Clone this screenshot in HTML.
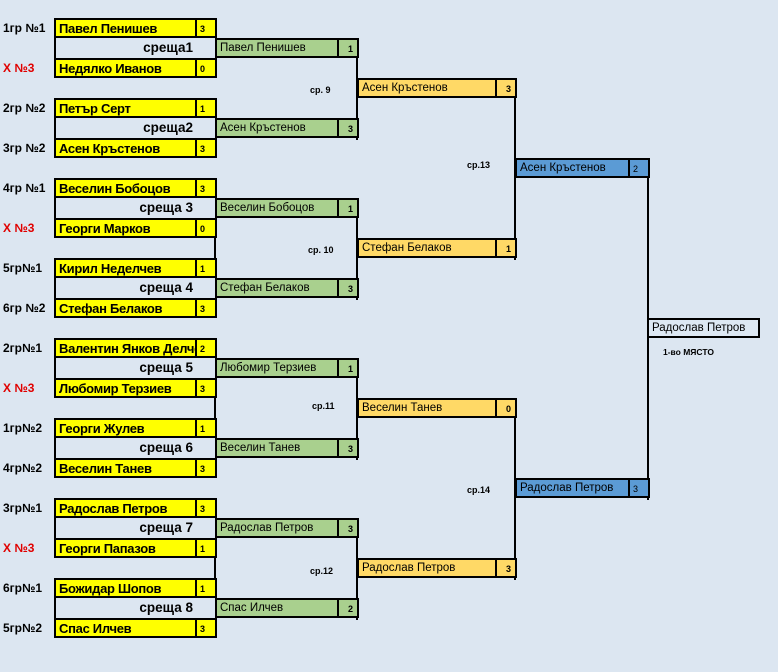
<!DOCTYPE html>
<html><head><meta charset="utf-8"><style>
body{margin:0;width:778px;height:672px;background:#dce6f1;position:relative;overflow:hidden;font-family:"Liberation Sans","DejaVu Sans",sans-serif}
.c{position:absolute;box-sizing:border-box;border:2px solid #000;height:20px;line-height:17px;white-space:nowrap;overflow:hidden;padding-left:3px}
.y{background:#ffff00;font-weight:bold;font-size:13px;letter-spacing:-0.3px;width:143px;left:54px}
.ys{background:#ffff00;font-weight:bold;font-size:9px;width:22px;left:195px;padding-left:3px;line-height:18px}
.g{background:#a9d08e;font-size:11.5px;width:124px;left:215px}
.gs{background:#a9d08e;font-weight:bold;font-size:9px;width:22px;left:337px;text-align:right;padding-right:4px;line-height:18px}
.o{background:#ffd966;font-size:11.5px;width:140px;left:357px}
.os{background:#ffd966;font-weight:bold;font-size:9px;width:22px;left:495px;text-align:right;padding-right:4px;line-height:18px}
.b{background:#5b9bd5;font-size:11.5px;width:115px;left:515px}
.bs{background:#5b9bd5;font-size:9px;width:22px;left:628px;line-height:18px}
.box{position:absolute;box-sizing:border-box;border:2px solid #000;left:54px;width:163px;height:60px}
.m{position:absolute;left:54px;width:139px;text-align:right;font-weight:bold;font-size:13.5px;line-height:20px}
.l{position:absolute;left:3px;font-weight:bold;font-size:12px;line-height:20px}
.r{color:#e00000}
.v{position:absolute;width:2px;background:#000}
.t{position:absolute;font-weight:bold;font-size:9px}
</style></head><body>
<div class="l" style="top:18px">1гр №1</div>
<div class="l r" style="top:58px">X №3</div>
<div class="l" style="top:98px">2гр №2</div>
<div class="l" style="top:138px">3гр №2</div>
<div class="l" style="top:178px">4гр №1</div>
<div class="l r" style="top:218px">X №3</div>
<div class="l" style="top:258px">5гр№1</div>
<div class="l" style="top:298px">6гр №2</div>
<div class="l" style="top:338px">2гр№1</div>
<div class="l r" style="top:378px">X №3</div>
<div class="l" style="top:418px">1гр№2</div>
<div class="l" style="top:458px">4гр№2</div>
<div class="l" style="top:498px">3гр№1</div>
<div class="l r" style="top:538px">X №3</div>
<div class="l" style="top:578px">6гр№1</div>
<div class="l" style="top:618px">5гр№2</div>

<div class="box" style="top:18px"></div><div class="box" style="top:98px"></div>
<div class="box" style="top:178px"></div><div class="box" style="top:258px"></div>
<div class="box" style="top:338px"></div><div class="box" style="top:418px"></div>
<div class="box" style="top:498px"></div><div class="box" style="top:578px"></div>
<div class="v" style="left:214px;top:238px;height:20px"></div>
<div class="v" style="left:214px;top:398px;height:20px"></div>
<div class="v" style="left:214px;top:558px;height:20px"></div>

<div class="c y" style="top:18px">Павел Пенишев</div><div class="c ys" style="top:18px">3</div>
<div class="c y" style="top:58px">Недялко Иванов</div><div class="c ys" style="top:58px">0</div>
<div class="c y" style="top:98px">Петър Серт</div><div class="c ys" style="top:98px">1</div>
<div class="c y" style="top:138px">Асен Кръстенов</div><div class="c ys" style="top:138px">3</div>
<div class="c y" style="top:178px">Веселин Бобоцов</div><div class="c ys" style="top:178px">3</div>
<div class="c y" style="top:218px">Георги Марков</div><div class="c ys" style="top:218px">0</div>
<div class="c y" style="top:258px">Кирил Неделчев</div><div class="c ys" style="top:258px">1</div>
<div class="c y" style="top:298px">Стефан Белаков</div><div class="c ys" style="top:298px">3</div>
<div class="c y" style="top:338px">Валентин Янков Делчев</div><div class="c ys" style="top:338px">2</div>
<div class="c y" style="top:378px">Любомир Терзиев</div><div class="c ys" style="top:378px">3</div>
<div class="c y" style="top:418px">Георги Жулев</div><div class="c ys" style="top:418px">1</div>
<div class="c y" style="top:458px">Веселин Танев</div><div class="c ys" style="top:458px">3</div>
<div class="c y" style="top:498px">Радослав Петров</div><div class="c ys" style="top:498px">3</div>
<div class="c y" style="top:538px">Георги Папазов</div><div class="c ys" style="top:538px">1</div>
<div class="c y" style="top:578px">Божидар Шопов</div><div class="c ys" style="top:578px">1</div>
<div class="c y" style="top:618px">Спас Илчев</div><div class="c ys" style="top:618px">3</div>

<div class="m" style="top:38px">среща1</div>
<div class="m" style="top:118px">среща2</div>
<div class="m" style="top:198px">среща 3</div>
<div class="m" style="top:278px">среща 4</div>
<div class="m" style="top:358px">среща 5</div>
<div class="m" style="top:438px">среща 6</div>
<div class="m" style="top:518px">среща 7</div>
<div class="m" style="top:598px">среща 8</div>

<div class="v" style="left:356px;top:38px;height:102px"></div>
<div class="v" style="left:356px;top:198px;height:102px"></div>
<div class="v" style="left:356px;top:358px;height:102px"></div>
<div class="v" style="left:356px;top:518px;height:102px"></div>
<div class="v" style="left:514px;top:78px;height:182px"></div>
<div class="v" style="left:514px;top:398px;height:182px"></div>
<div class="v" style="left:647px;top:158px;height:342px"></div>

<div class="c g" style="top:38px">Павел Пенишев</div><div class="c gs" style="top:38px">1</div>
<div class="c g" style="top:118px">Асен Кръстенов</div><div class="c gs" style="top:118px">3</div>
<div class="c g" style="top:198px">Веселин Бобоцов</div><div class="c gs" style="top:198px">1</div>
<div class="c g" style="top:278px">Стефан Белаков</div><div class="c gs" style="top:278px">3</div>
<div class="c g" style="top:358px">Любомир Терзиев</div><div class="c gs" style="top:358px">1</div>
<div class="c g" style="top:438px">Веселин Танев</div><div class="c gs" style="top:438px">3</div>
<div class="c g" style="top:518px">Радослав Петров</div><div class="c gs" style="top:518px">3</div>
<div class="c g" style="top:598px">Спас Илчев</div><div class="c gs" style="top:598px">2</div>

<div class="c o" style="top:78px">Асен Кръстенов</div><div class="c os" style="top:78px">3</div>
<div class="c o" style="top:238px">Стефан Белаков</div><div class="c os" style="top:238px">1</div>
<div class="c o" style="top:398px">Веселин Танев</div><div class="c os" style="top:398px">0</div>
<div class="c o" style="top:558px">Радослав Петров</div><div class="c os" style="top:558px">3</div>

<div class="c b" style="top:158px">Асен Кръстенов</div><div class="c bs" style="top:158px">2</div>
<div class="c b" style="top:478px">Радослав Петров</div><div class="c bs" style="top:478px">3</div>

<div class="c" style="top:318px;left:647px;width:113px;font-size:11.5px;background:#dde8f3">Радослав Петров</div>

<div class="t" style="left:310px;top:85px">ср. 9</div>
<div class="t" style="left:308px;top:245px">ср. 10</div>
<div class="t" style="left:312px;top:401px">ср.11</div>
<div class="t" style="left:310px;top:566px">ср.12</div>
<div class="t" style="left:467px;top:160px">ср.13</div>
<div class="t" style="left:467px;top:485px">ср.14</div>
<div class="t" style="left:663px;top:347px;font-size:8.5px">1-во МЯСТО</div>
</body></html>
